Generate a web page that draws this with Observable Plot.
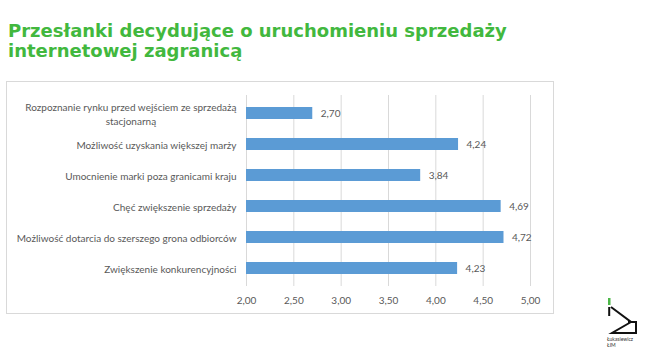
<!DOCTYPE html>
<html><head><meta charset="utf-8">
<script src="https://cdn.jsdelivr.net/npm/d3@7"></script>
<script src="https://cdn.jsdelivr.net/npm/@observablehq/plot@0.6"></script>
<style>
body{margin:0;background:#fff;}
#wrap{position:relative;width:659px;height:355px;overflow:hidden;font-family:Lato,sans-serif;}
#title{position:absolute;left:8px;top:21px;font-family:"DejaVu Sans",Verdana,sans-serif;font-weight:bold;font-size:18px;line-height:20px;color:#42b83e;white-space:nowrap;}
#frame{position:absolute;left:6px;top:81px;width:546px;height:231px;border:1px solid #d9d9d9;}
#chart{position:absolute;left:6px;top:81px;}
#logo{position:absolute;left:0;top:0;pointer-events:none;}
</style></head>
<body>
<div id="wrap">
  <div id="title">Przesłanki decydujące o uruchomieniu sprzedaży<br>internetowej zagranicą</div>
  <div id="frame"></div>
  <div id="chart"></div>
  <svg id="logo" width="659" height="355">
    <rect x="608" y="298" width="2.5" height="7" fill="#4cb848"/>
    <path d="M609.2,307 V316 M611,307 L631,322 L612,333 H636 V322 H628" fill="none" stroke="#111" stroke-width="2"/>
    <text x="607" y="341" font-family="Lato, sans-serif" font-size="5" fill="#333">Łukasiewicz</text>
    <text x="607" y="347" font-family="Lato, sans-serif" font-size="5" fill="#333">ŁIM</text>
  </svg>
</div>
<script>
const categories = [
  "Rozpoznanie rynku przed wejściem ze sprzedażą\nstacjonarną",
  "Możliwość uzyskania większej marży",
  "Umocnienie marki poza granicami kraju",
  "Chęć zwiększenie sprzedaży",
  "Możliwość dotarcia do szerszego grona odbiorców",
  "Zwiększenie konkurencyjności"
];
const values = [2.70, 4.24, 3.84, 4.69, 4.72, 4.23];
const xTicks = [2.00, 2.50, 3.00, 3.50, 4.00, 4.50, 5.00];

const data = categories.map((c, i) => ({c, v: values[i]}));
const fmt = v => v.toFixed(2).replace(".", ",");

const plot = Plot.plot({
  width: 548, height: 233,
  marginLeft: 240, marginRight: 24, marginTop: 14, marginBottom: 28,
  style: {fontFamily: "Lato, sans-serif", fontSize: "10px", color: "#595959", background: "transparent", overflow: "visible"},
  x: {domain: [2, 5]},
  y: {domain: categories, paddingInner: 0.62, paddingOuter: 0.3},
  marks: [
    Plot.gridX(xTicks, {stroke: "#d9d9d9", strokeOpacity: 1}),
    Plot.axisX({ticks: xTicks, tickFormat: fmt, tickSize: 0, tickPadding: 10, label: null, fill: "#595959"}),
    Plot.axisY({tickSize: 0, tickPadding: 10, label: null, lineHeight: 1.4, fill: "#595959"}),
    Plot.barX(data, {y: "c", x1: 2, x2: "v", fill: "#5b9bd5"}),
    Plot.text(data, {y: "c", x: "v", text: d => fmt(d.v), textAnchor: "start", dx: 8, fill: "#595959"})
  ]
});
document.getElementById("chart").appendChild(plot);

// center the lines of multi-line category labels within their right-aligned block
plot.querySelectorAll("text").forEach(t => {
  const spans = t.querySelectorAll("tspan");
  if (spans.length > 1 && t.closest('[aria-label="y-axis tick label"]')) {
    const w = t.getBBox().width;
    t.setAttribute("text-anchor", "middle");
    spans.forEach(s => s.setAttribute("x", -w / 2));
  }
});
</script>
</body></html>
